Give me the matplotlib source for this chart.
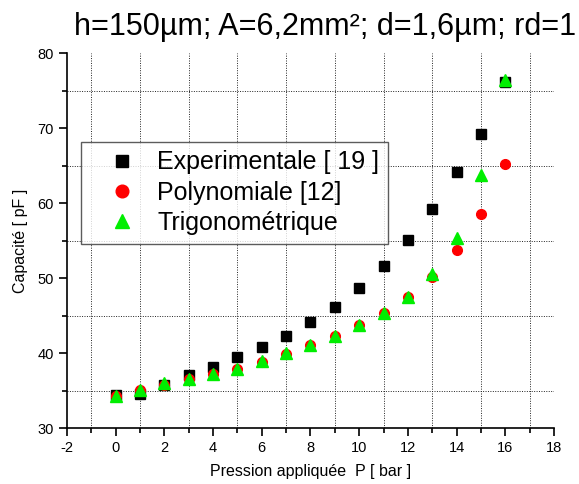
import matplotlib
matplotlib.use("Agg")
import matplotlib.pyplot as plt
from matplotlib.ticker import MultipleLocator

plt.rcParams['font.family'] = ['Liberation Sans', 'DejaVu Sans']
plt.rcParams['axes.unicode_minus'] = False

# pressure (bar)
pression = [0, 1, 2, 3, 4, 5, 6, 7, 8, 9, 10, 11, 12, 13, 14, 15, 16]

# capacitance (pF)
experimentale = [34.4, 34.5, 35.8, 37.1, 38.2, 39.5, 40.8, 42.3, 44.1, 46.2,
                 48.7, 51.6, 55.1, 59.2, 64.1, 69.2, 76.1]
polynomiale = [34.3, 35.1, 35.8, 36.6, 37.2, 37.9, 38.8, 39.9, 41.1, 42.3,
               43.7, 45.3, 47.5, 50.1, 53.7, 58.5, 65.2]
trigonometrique = [34.3, 35.1, 36.0, 36.6, 37.2, 37.9, 38.9, 40.0, 41.1, 42.3,
                   43.8, 45.4, 47.5, 50.5, 55.3, 63.7, 76.4]

noms = ['Experimentale [ 19 ]', 'Polynomiale [12]', 'Trigonométrique']
titre = 'h=150µm; A=6,2mm²; d=1,6µm; rd=1'

fig = plt.figure(figsize=(5.79, 4.84), dpi=100)
ax = fig.add_axes([0.1157, 0.1153, 0.8411, 0.7747])

ax.plot(pression, experimentale, 's', color='black', ms=6.5, mec='black', label=noms[0])
ax.plot(pression, polynomiale, 'o', color='red', ms=7, mec='red', label=noms[1])
ax.plot(pression, trigonometrique, '^', color='#00ee00', ms=8, mec='#00ee00', label=noms[2])

ax.set_xlim(-2, 18)
ax.set_ylim(30, 80)
ax.xaxis.set_major_locator(MultipleLocator(2))
ax.xaxis.set_minor_locator(MultipleLocator(1))
ax.yaxis.set_major_locator(MultipleLocator(10))
ax.yaxis.set_minor_locator(MultipleLocator(5))
ax.tick_params(which='major', direction='out', length=6, width=1.2, labelsize=10.5)
ax.tick_params(which='minor', direction='out', length=3.5, width=1.2)

# grid only on the minor ticks, like Origin
ax.grid(True, which='minor', color='#222222', linestyle=(0, (1, 1.5)), linewidth=0.7)
ax.grid(False, which='major')

ax.spines['top'].set_visible(False)
ax.spines['right'].set_visible(False)
ax.spines['left'].set_linewidth(1.2)
ax.spines['bottom'].set_linewidth(1.2)

ax.set_xlabel('Pression appliquée  P [ bar ]', fontsize=11.5, labelpad=6)
ax.set_ylabel('Capacité [ pF ]', fontsize=11.5, labelpad=7)

leg = ax.legend(loc='upper left', bbox_to_anchor=(0.0287, 0.764), borderaxespad=0,
                fontsize=18, frameon=True, fancybox=False, markerscale=1.3,
                handletextpad=0.1, borderpad=0.35, labelspacing=0.25, handlelength=2.6)
leg.get_frame().set_edgecolor('#333333')
leg.get_frame().set_linewidth(1.0)

fig.text(0.128, 0.928, titre, fontsize=22, va='baseline', ha='left')

fig.savefig('out.png', dpi=100)
